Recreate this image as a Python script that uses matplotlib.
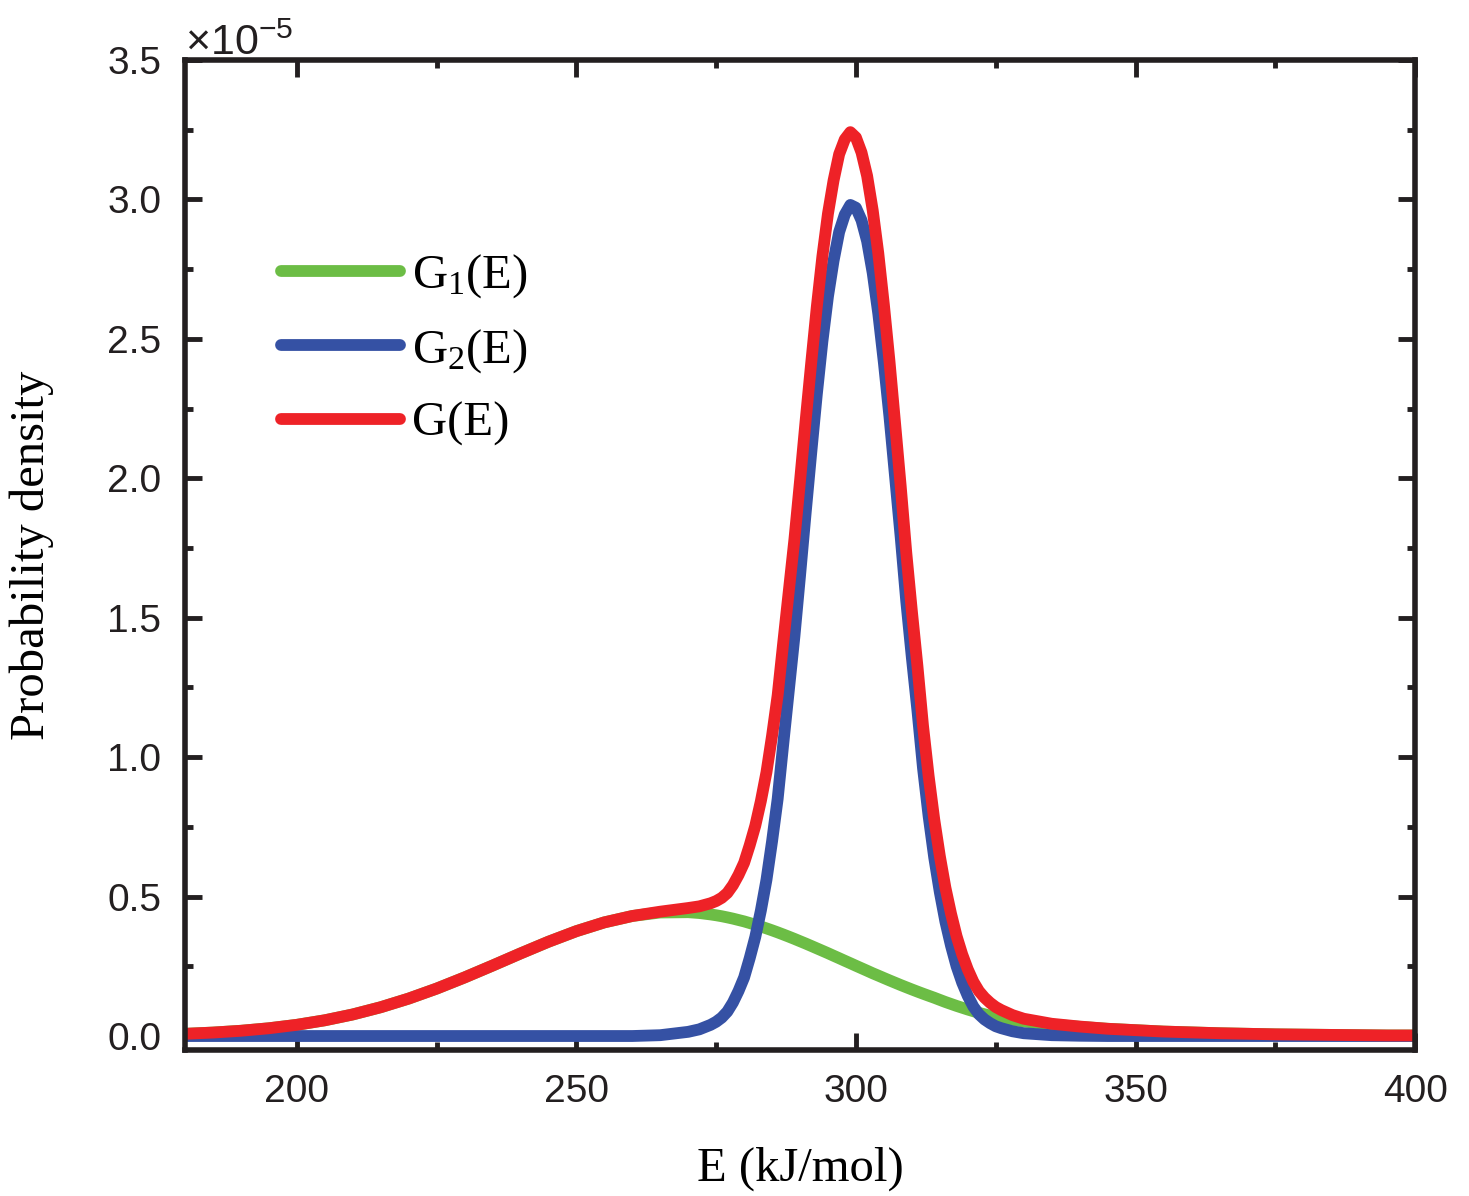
import numpy as np
import matplotlib
matplotlib.use("Agg")
import matplotlib.pyplot as plt
from matplotlib.ticker import MultipleLocator, FormatStrFormatter

plt.rcParams['mathtext.default'] = 'regular'

# energy grid (kJ/mol), finer around the peak
energy = (list(range(180, 271, 5)) + [272] + list(range(274, 327))
          + [328, 330] + list(range(335, 401, 5)))

# densities, in units of 1e-5
g1 = [0.0079, 0.0124, 0.0188, 0.0278, 0.0401, 0.0564, 0.0773, 0.1032, 0.1342,
      0.170, 0.210, 0.2525, 0.296, 0.338, 0.376, 0.4075, 0.4304, 0.4429, 0.444,
      0.441,
      # 274 .. 326
      0.436, 0.433, 0.4295, 0.4254, 0.421, 0.416, 0.411, 0.4051, 0.399, 0.3927,
      0.386, 0.379, 0.3717, 0.3641, 0.3563, 0.3483, 0.340, 0.3317, 0.3231, 0.3144,
      0.3057, 0.297, 0.2879, 0.279, 0.2699, 0.261, 0.2519, 0.243, 0.2341, 0.225,
      0.2166, 0.208, 0.1995, 0.1912, 0.1829, 0.1749, 0.167, 0.1593, 0.1518, 0.1445,
      0.1373, 0.1296, 0.122, 0.115, 0.108, 0.1015, 0.095, 0.089, 0.083, 0.078,
      0.073, 0.069, 0.065,
      0.058, 0.052,
      0.041, 0.033, 0.026, 0.021, 0.016, 0.013, 0.010, 0.008, 0.006, 0.005,
      0.004, 0.003, 0.002, 0.002]

g2 = [0, 0, 0, 0, 0, 0, 0, 0, 0, 0, 0, 0, 0, 0, 0, 0, 0, 0.003, 0.015,
      0.024,
      # 274 .. 326
      0.04, 0.051, 0.066, 0.0875, 0.12, 0.1615, 0.21, 0.279, 0.355, 0.45,
      0.56, 0.698, 0.85, 1.047, 1.24, 1.433, 1.65, 1.874, 2.09, 2.30,
      2.49, 2.652, 2.78, 2.883, 2.945, 2.98, 2.97, 2.925, 2.85, 2.736,
      2.59, 2.414, 2.22, 2.006, 1.79, 1.559, 1.357, 1.167, 0.96, 0.788,
      0.64, 0.516, 0.41, 0.324, 0.25, 0.1915, 0.144, 0.1055, 0.078, 0.0595,
      0.046, 0.035, 0.028,
      0.017, 0.010,
      0.003, 0.001, 0, 0, 0, 0, 0, 0, 0, 0, 0, 0, 0, 0]

g_total = [0.0079, 0.0124, 0.0188, 0.0278, 0.0401, 0.0564, 0.0773, 0.1032, 0.1342,
           0.170, 0.210, 0.2525, 0.296, 0.338, 0.376, 0.4075, 0.4304, 0.4459, 0.459,
           0.465,
           # 274 .. 326
           0.476, 0.484, 0.4955, 0.5129, 0.541, 0.5775, 0.621, 0.6841, 0.754, 0.8427,
           0.946, 1.077, 1.2217, 1.4111, 1.5963, 1.7813, 1.990, 2.2057, 2.4131, 2.6144,
           2.7957, 2.949, 3.0679, 3.162, 3.2149, 3.241, 3.2219, 3.168, 3.0841, 2.961,
           2.8066, 2.622, 2.4195, 2.1972, 1.9729, 1.7339, 1.524, 1.3263, 1.1118, 0.9325,
           0.7773, 0.6456, 0.532, 0.439, 0.358, 0.293, 0.239, 0.1945, 0.161, 0.1375,
           0.119, 0.104, 0.093,
           0.075, 0.062,
           0.044, 0.034, 0.026, 0.021, 0.016, 0.013, 0.010, 0.008, 0.006, 0.005,
           0.004, 0.003, 0.002, 0.002]

fig = plt.figure(figsize=(14.69, 11.96), dpi=100)
ax = fig.add_axes([0.1259, 0.1221, 0.8374, 0.8278])

lw = 8.5
style = dict(lw=lw, solid_capstyle='round', solid_joinstyle='round')
ax.plot(energy, g1, color='#6cbd45', label=r'G$_1$(E)', **style)
ax.plot(energy, g2, color='#3551a4', label=r'G$_2$(E)', **style)
ax.plot(energy, g_total, color='#ee2227', label='G(E)', **style)

ax.set_xlim(180, 400)
ax.set_ylim(-0.05, 3.5)
ax.xaxis.set_major_locator(MultipleLocator(50))
ax.xaxis.set_minor_locator(MultipleLocator(25))
ax.yaxis.set_major_locator(MultipleLocator(0.5))
ax.yaxis.set_minor_locator(MultipleLocator(0.25))
ax.yaxis.set_major_formatter(FormatStrFormatter('%.1f'))

for s in ax.spines.values():
    s.set_linewidth(4)
    s.set_color('#231f20')
ax.tick_params(which='both', direction='in', top=True, right=True,
               color='#231f20', width=3.5)
ax.tick_params(which='major', length=12, pad=17)
ax.tick_params(which='minor', length=6)
for lab in ax.get_xticklabels() + ax.get_yticklabels():
    lab.set_family('Liberation Sans')
    lab.set_fontsize(28)
    lab.set_color('#231f20')

ax.set_xlabel('E (kJ/mol)', family='Liberation Serif', fontsize=35, labelpad=27)
ax.set_ylabel('Probability density', family='Liberation Serif', fontsize=35, labelpad=38)

ax.text(0.0, 0.996, r'×10$^{-5}$', transform=ax.transAxes, family='Liberation Sans',
        fontsize=31, ha='left', va='bottom', color='#231f20')

leg = ax.legend(loc='upper left', bbox_to_anchor=(0.058, 0.83), frameon=False,
                prop={'family': 'Liberation Serif', 'size': 35},
                handlelength=2.45, handletextpad=0.25, labelspacing=0.55,
                borderpad=0)
for h in leg.get_lines():
    h.set_linewidth(lw)
    h.set_solid_capstyle('round')

fig.savefig('out.png', dpi=100)
